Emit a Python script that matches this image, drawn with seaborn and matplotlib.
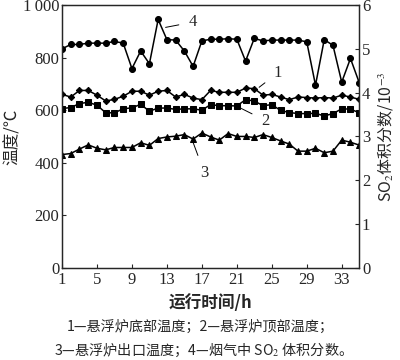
import numpy as np
import pandas as pd
import matplotlib
matplotlib.use("Agg")
import matplotlib.pyplot as plt
import seaborn as sns
from matplotlib.ticker import FuncFormatter

# Data
hours = list(range(1, 36))
t_bottom = [660, 650, 675, 675, 657, 635, 641, 653, 672, 672, 657, 672, 675, 650, 660, 646, 640, 675,
            668, 668, 668, 684, 682, 657, 660, 650, 640, 650, 648, 646, 648, 646, 657, 650, 641]
t_top = [606, 610, 625, 630, 619, 590, 590, 605, 609, 622, 596, 608, 608, 603, 605, 605, 600, 621,
         617, 617, 616, 640, 635, 617, 621, 599, 591, 587, 587, 588, 578, 587, 605, 604, 590]
t_outlet = [431, 435, 452, 468, 455, 449, 458, 458, 458, 476, 466, 492, 498, 501, 507, 490, 513, 498,
            486, 511, 500, 500, 496, 507, 496, 483, 471, 444, 444, 455, 438, 444, 486, 478, 467]
so2 = [5.00, 5.10, 5.10, 5.13, 5.13, 5.13, 5.17, 5.13, 4.55, 4.95, 4.66, 5.67, 5.21, 5.20, 4.95, 4.60,
       5.18, 5.22, 5.22, 5.23, 5.22, 4.72, 5.24, 5.18, 5.20, 5.20, 5.20, 5.20, 5.16, 4.17, 5.21, 5.08,
       4.24, 4.78, 4.23]

x_ticks = [1, 5, 9, 13, 17, 21, 25, 29, 33]
left_ticks = [0, 200, 400, 600, 800, 1000]
right_ticks = [0, 1, 2, 3, 4, 5, 6]

df = pd.DataFrame({"h": hours, "t1": t_bottom, "t2": t_top, "t3": t_outlet, "so2": so2})

sns.set_style("ticks")
plt.rcParams["font.family"] = ["Liberation Serif", "Noto Sans CJK SC"]
plt.rcParams["mathtext.fontset"] = "stix"
cjk = ["Noto Sans CJK SC", "Liberation Serif"]

fig = plt.figure(figsize=(4, 3.6), dpi=100)
ax = fig.add_axes([0.155, 0.256, 0.743, 0.730])
ax2 = ax.twinx()

kw = dict(color="black", linewidth=1.1, markeredgecolor="black", ax=ax)
sns.lineplot(data=df, x="h", y="t1", marker="D", markersize=3.2, **kw)
sns.lineplot(data=df, x="h", y="t2", marker="s", markersize=3.8, **kw)
sns.lineplot(data=df, x="h", y="t3", marker="^", markersize=4.3, **kw)
kw["ax"] = ax2
sns.lineplot(data=df, x="h", y="so2", marker="o", markersize=4.3, **kw)

ax.set_xlim(1, 35)
ax.set_ylim(0, 1000)
ax2.set_ylim(0, 6)
ax.set_xticks(x_ticks)
ax.set_yticks(left_ticks)
ax2.set_yticks(right_ticks)
ax.yaxis.set_major_formatter(FuncFormatter(lambda v, p: "1\u2009000" if v == 1000 else f"{int(v)}"))

for a in (ax, ax2):
    a.tick_params(direction="in", length=3, width=0.8, labelsize=12, pad=2)
    for s in a.spines.values():
        s.set_linewidth(0.9)
        s.set_visible(True)
ax.tick_params(axis="x", pad=3)

ax.set_xlabel("运行时间/h", fontsize=12, family=cjk, fontweight="bold", labelpad=4)
ax.set_ylabel("温度/℃", fontsize=12, family=cjk, labelpad=1)
ax2.set_ylabel("SO$_2$体积分数/10$^{-3}$", fontsize=11.5, family=cjk, labelpad=3)

# Curve labels with leader lines
labels = [("1", (23.55, 687), (25.7, 742)),
          ("2", (21.0, 615), (24.3, 560)),
          ("3", (15.9, 486), (17.3, 360)),
          ("4", (12.85, 915), (16.0, 935))]
for txt, xy, xyt in labels:
    ax.annotate(txt, xy=xy, xytext=xyt, fontsize=12, ha="center", va="center",
                arrowprops=dict(arrowstyle="-", color="black", lw=0.7, shrinkA=5, shrinkB=0))

fig.text(0.5, 0.092, "1—悬浮炉底部温度；2—悬浮炉顶部温度；", ha="center", va="center",
         fontsize=10.2, family=cjk)
fig.text(0.5, 0.028, "3—悬浮炉出口温度；4—烟气中 SO$_2$ 体积分数。", ha="center", va="center",
         fontsize=10.2, family=cjk)

fig.savefig("out.png", dpi=100)
